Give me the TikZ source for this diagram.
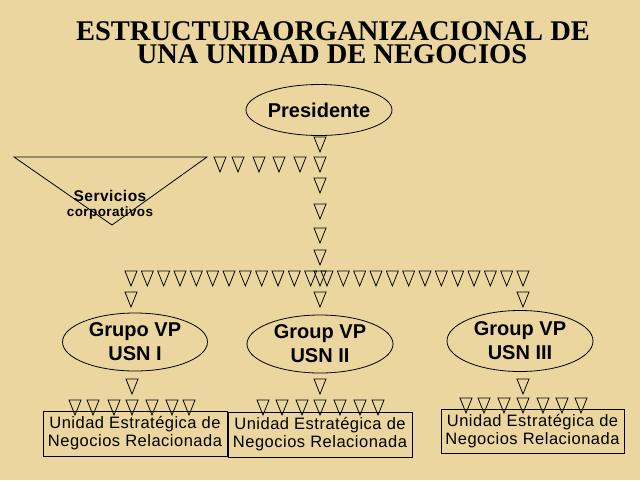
\documentclass[tikz,border=0pt]{standalone}
\usepackage{fontspec}
\setmainfont{Liberation Serif}
\newfontfamily\arial{Liberation Sans}
\newfontfamily\arialsp[LetterSpace=3]{Liberation Sans}
\usetikzlibrary{shapes.geometric}
\definecolor{parch}{RGB}{234,214,158}
\tikzset{
  tri/.pic={\draw[line width=0.75pt] (-6,0) -- (6,0) -- (0,15) -- cycle;},
  oval/.style={draw, ellipse, line width=0.8pt, inner sep=0pt, align=center,
    font=\arial\bfseries\fontsize{20}{24}\selectfont},
  unitbox/.style={draw, rectangle, line width=0.9pt, inner sep=0pt, align=center,
    font=\arialsp\fontsize{16.5}{18}\selectfont},
  titletext/.style={font=\bfseries\fontsize{28.5}{30}\selectfont, inner sep=0pt,
    text height=19.5pt, text depth=0pt, anchor=base}
}
\begin{document}
\begin{tikzpicture}[x=1pt,y=-1pt]
\fill[parch] (0,0) rectangle (640,480);
\useasboundingbox (0,0) rectangle (640,480);

% title
\node[titletext] (title1) at (333,40) {ESTRUCTURAORGANIZACIONAL DE};
\node[titletext] (title2) at (332,63) {UNA UNIDAD DE NEGOCIOS};

% president
\node[oval, minimum width=146pt, minimum height=51pt] (pres) at (319,110) {Presidente};

% servicios corporativos triangle
\draw[line width=0.8pt] (14,157) coordinate (sa) -- (207,157) coordinate (sb) -- (112,225) coordinate (sc) -- cycle;
\node[font=\arialsp\bfseries\fontsize{15.5}{18}\selectfont] (serv) at (110,196) {Servicios};
\node[font=\arialsp\bfseries\fontsize{13.5}{18}\selectfont] (corp) at (110,213) {corporativos};

% vertical column
\foreach \yy in {137,157,178,204,228,250,271,292}
  \pic at (320,\yy) {tri};
% row to servicios
\foreach \xx in {220,238,259,279,300}
  \pic at (\xx,157) {tri};
% long row
\foreach \i in {0,...,24}
  \pic at ({131+\i*16.333},271) {tri};
\pic at (131,292) {tri};
\pic at (523,292) {tri};

% group ellipses
\node[oval, minimum width=145pt, minimum height=58pt] (g1) at (135,342) {Grupo VP\\USN I};
\node[oval, minimum width=146pt, minimum height=58pt] (g2) at (320,344) {Group VP\\USN II};
\node[oval, minimum width=146pt, minimum height=61pt] (g3) at (520,341) {Group VP\\USN III};

\pic at (132,379) {tri};
\pic at (320,379) {tri};
\pic at (523,379) {tri};

% boxes
\node[unitbox, minimum width=184pt, minimum height=45pt] (u1) at (135,433.5) {Unidad Estratégica de\\Negocios Relacionada};
\node[unitbox, minimum width=184pt, minimum height=45pt] (u2) at (320,434.5) {Unidad Estratégica de\\Negocios Relacionada};
\node[unitbox, minimum width=183pt, minimum height=44pt] (u3) at (532.5,431) {Unidad Estratégica de\\Negocios Relacionada};

\foreach \xx in {75,93,114,132,152,172,189}
  \pic at (\xx,400) {tri};
\foreach \xx in {263,282,302,320,340,360,378}
  \pic at (\xx,400) {tri};
\foreach \xx in {466,484,504,523,543,562,581}
  \pic at (\xx,398) {tri};
\end{tikzpicture}
\end{document}
